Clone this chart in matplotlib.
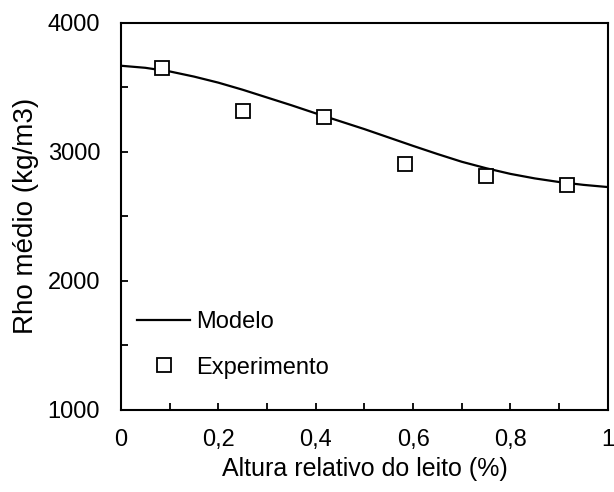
import matplotlib
matplotlib.use('Agg')
import matplotlib.pyplot as plt
from matplotlib.ticker import MultipleLocator, FuncFormatter

plt.rcParams['font.family'] = ['Liberation Sans', 'DejaVu Sans']

# modelo (curva)
x_mod = [0, 0.05, 0.1, 0.15, 0.2, 0.25, 0.3, 0.35, 0.4, 0.45, 0.5,
         0.55, 0.6, 0.65, 0.7, 0.75, 0.8, 0.85, 0.9, 0.95, 1.0]
rho_mod = [3666, 3650, 3622, 3582, 3535, 3480, 3420, 3360, 3297, 3236, 3175,
           3110, 3045, 2982, 2922, 2872, 2828, 2793, 2765, 2743, 2726]

# experimento
x_exp = [0.0833, 0.25, 0.4167, 0.5833, 0.75, 0.9167]
rho_exp = [3645, 3312, 3272, 2905, 2815, 2745]

fig = plt.figure(figsize=(6.14, 4.92), dpi=100)
ax = fig.add_axes([0.197, 0.167, 0.793, 0.787])

ax.plot(x_mod, rho_mod, color='black', lw=1.6, label='Modelo')
ax.plot(x_exp, rho_exp, ls='none', marker='s', ms=9.5, mfc='white',
        mec='black', mew=1.3, label='Experimento')

ax.set_xlim(0, 1)
ax.set_ylim(1000, 4000)
ax.xaxis.set_major_locator(MultipleLocator(0.2))
ax.xaxis.set_minor_locator(MultipleLocator(0.1))
ax.yaxis.set_major_locator(MultipleLocator(1000))
ax.yaxis.set_minor_locator(MultipleLocator(500))
ax.xaxis.set_major_formatter(FuncFormatter(lambda v, p: ('%g' % v).replace('.', ',')))

ax.tick_params(which='both', direction='in', length=5, width=1.3,
               top=False, right=False, labelsize=17)
ax.tick_params(axis='x', pad=14)
ax.tick_params(axis='y', pad=15)
for s in ax.spines.values():
    s.set_linewidth(1.5)

ax.set_xlabel('Altura relativo do leito (%)', fontsize=18, labelpad=4)
ax.set_ylabel('Rho médio (kg/m3)', fontsize=20, labelpad=6)

ax.legend(loc='upper left', bbox_to_anchor=(0.033, 0.255), frameon=False,
          fontsize=17, handlelength=2.25, handletextpad=0.25, labelspacing=1.0,
          borderaxespad=0, borderpad=0)

fig.savefig('out.png', dpi=100)
